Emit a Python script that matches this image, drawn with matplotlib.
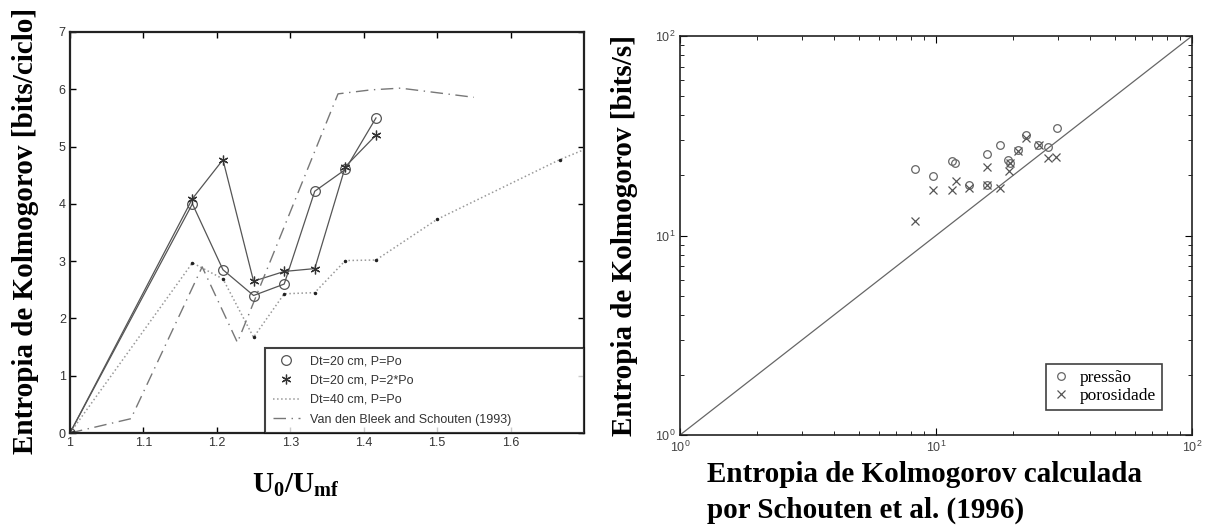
import numpy as np
import matplotlib.pyplot as plt

# left panel: entropy vs U0/Umf
x_20 = [1.0, 1.1667, 1.2083, 1.25, 1.2917, 1.3333, 1.375, 1.4167]
y_20_po = [0.0, 4.0, 2.85, 2.4, 2.6, 4.22, 4.6, 5.5]
y_20_2po = [0.0, 4.09, 4.77, 2.65, 2.82, 2.87, 4.65, 5.2]

x_40 = [1.0, 1.1667, 1.2083, 1.25, 1.2917, 1.3333, 1.375, 1.4167, 1.5, 1.6667, 1.8333]
y_40 = [0.0, 2.97, 2.69, 1.67, 2.43, 2.45, 3.01, 3.02, 3.73, 4.77, 5.65]

x_vdb = [1.0, 1.083, 1.18, 1.228, 1.365, 1.41, 1.45, 1.55]
y_vdb = [0.0, 0.25, 2.9, 1.58, 5.92, 5.99, 6.02, 5.86]

legend_left = ["Dt=20 cm, P=Po", "Dt=20 cm, P=2*Po", "Dt=40 cm, P=Po",
               "Van den Bleek and Schouten (1993)"]

# right panel: measured vs Schouten entropy (log-log)
press_x = [8.3, 9.75, 11.55, 11.9, 13.5, 15.8, 15.8, 17.8, 19.1, 19.5, 20.9, 22.5, 25.0, 27.4, 29.7]
press_y = [21.5, 19.9, 23.6, 23.1, 17.9, 25.6, 17.9, 28.4, 23.9, 23.1, 26.8, 31.9, 28.4, 27.8, 34.6]
poro_x = [8.28, 9.76, 11.58, 11.97, 13.5, 15.8, 15.8, 17.8, 19.2, 19.5, 21.0, 22.5, 25.3, 27.5, 29.4]
poro_y = [11.8, 17.0, 17.0, 18.8, 17.4, 22.1, 17.9, 17.4, 21.0, 23.2, 26.6, 30.7, 28.4, 24.6, 24.8]
diag = [1, 100]

W, H = 1211, 529
plt.rcParams['font.family'] = ['Liberation Sans', 'DejaVu Sans']
plt.rcParams['mathtext.fontset'] = 'custom'
plt.rcParams['mathtext.rm'] = 'Liberation Serif'
plt.rcParams['mathtext.bf'] = 'Liberation Serif:bold'
serif = ['Liberation Serif', 'DejaVu Serif']

fig = plt.figure(figsize=(W / 100, H / 100), dpi=100)

# ---- left axes
ax1 = fig.add_axes([70 / W, 1 - 433 / H, 514 / W, 401 / H])
ax1.plot(x_20, y_20_po, '-', color='#555555', lw=0.9)
ax1.plot(x_20, y_20_2po, '-', color='#555555', lw=0.9)
ax1.plot(x_40, y_40, ':', color='#999999', lw=1.1)
ax1.plot(x_vdb, y_vdb, '-.', color='#777777', lw=1.0, dashes=(9, 4, 1, 4))
ax1.plot(x_40, y_40, '.', color='#222222', ms=3)
h1, = ax1.plot(x_20, y_20_po, 'o', mfc='none', mec='#555555', ms=7, mew=0.9)
h2, = ax1.plot(x_20, y_20_2po, marker=(6, 2, 0), ls='none', color='#333333', ms=7, mew=0.9)
h3, = ax1.plot([], [], ':', color='#999999', lw=1.1)
h4, = ax1.plot([], [], '-.', color='#777777', lw=1.0, dashes=(9, 4, 1, 4))
ax1.set_xlim(1, 1.7)
ax1.set_ylim(0, 7)
ax1.set_xticks([1, 1.1, 1.2, 1.3, 1.4, 1.5, 1.6])
ax1.set_xticklabels(['1', '1.1', '1.2', '1.3', '1.4', '1.5', '1.6'])
ax1.set_yticks(range(8))
ax1.tick_params(direction='in', top=True, right=True, length=4, width=1,
                labelsize=9, labelcolor='#333333', pad=3)
for s in ax1.spines.values():
    s.set_linewidth(1.6)
    s.set_color('#222222')
leg = ax1.legend([h1, h2, h3, h4], legend_left, loc='lower left',
                 bbox_to_anchor=(195 / 514, 0, 319 / 514, 0.2), mode='expand',
                 borderaxespad=0, fontsize=9, frameon=True, fancybox=False,
                 edgecolor='#111111', handlelength=2.2, labelspacing=0.6,
                 borderpad=0.6)
leg.get_frame().set_linewidth(1.5)
for t in leg.get_texts():
    t.set_color('#333333')

# ---- right axes
ax2 = fig.add_axes([680 / W, 1 - 435 / H, 512 / W, 399 / H])
ax2.loglog(diag, diag, '-', color='#666666', lw=0.9)
ax2.plot(press_x, press_y, 'o', mfc='none', mec='#666666', ms=5.5, mew=0.9, label='pressão')
ax2.plot(poro_x, poro_y, 'x', color='#555555', ms=6, mew=0.9, label='porosidade')
ax2.set_xlim(1, 100)
ax2.set_ylim(1, 100)
ax2.tick_params(which='both', direction='in', top=True, right=True,
                labelsize=9, labelcolor='#444444')
ax2.tick_params(which='major', length=5)
ax2.tick_params(which='minor', length=3)
for s in ax2.spines.values():
    s.set_linewidth(1.2)
    s.set_color('#222222')
leg2 = ax2.legend(loc='lower right', bbox_to_anchor=((1162 - 680) / 512, (435 - 410) / 399),
                  borderaxespad=0, frameon=True, fancybox=False, edgecolor='#111111',
                  prop={'family': serif, 'size': 12.5}, handlelength=1.0,
                  handletextpad=0.6, labelspacing=0.1, borderpad=0.35)
leg2.get_frame().set_linewidth(1.2)

# ---- axis titles placed as figure text
lab = dict(family=serif, weight='bold', size=21, color='black')
fig.text(26 / W, 1 - 231 / H, 'Entropia de Kolmogorov [bits/ciclo]', rotation=90,
         ha='center', va='center', **lab)
fig.text(296 / W, 1 - 485 / H, r'$\mathbf{U_0/U_{mf}}$', ha='center', va='center',
         size=21)
fig.text(625 / W, 1 - 235 / H, 'Entropia de Kolmogorov [bits/s]', rotation=90,
         ha='center', va='center', **lab)
fig.text(707 / W, 1 - 482 / H, 'Entropia de Kolmogorov calculada', ha='left',
         va='baseline', **lab)
fig.text(707 / W, 1 - 518 / H, 'por Schouten et al. (1996)', ha='left',
         va='baseline', **lab)

fig.savefig('out.png', dpi=100)
